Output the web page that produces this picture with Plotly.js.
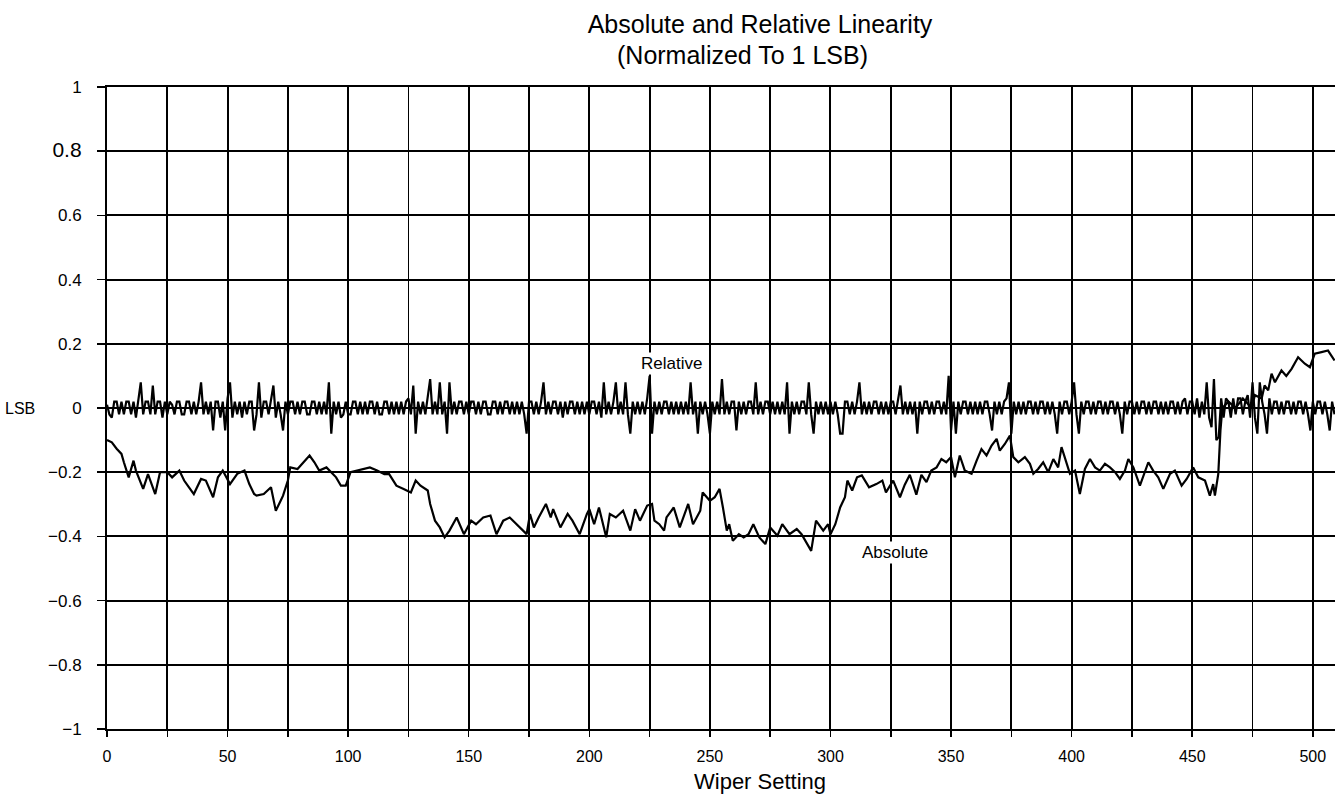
<!DOCTYPE html>
<html>
<head>
<meta charset="utf-8">
<script src="https://cdn.plot.ly/plotly-3.0.1.min.js"></script>
<style>html,body{margin:0;padding:0;background:#fff;}#chart{width:1335px;height:796px;}</style>
</head>
<body>
<div id="chart"></div>
<script>
// ---- Data ----
// Relative linearity, one value per wiper setting 0..509 (LSB)
const relY = [
 0.01,-0.02,-0.03,0.02,0.02,-0.02,0.02,-0.02,0.02,0.02,
 -0.02,0.02,-0.03,0.02,0.08,-0.02,0.02,0.02,-0.02,0.07,
 -0.02,0.02,0.02,-0.03,0.02,-0.02,0.02,0.01,-0.02,0.02,
 0.02,-0.02,-0.02,0.02,0.02,-0.02,0.02,-0.02,0.02,0.08,
 -0.02,0.02,-0.02,0.02,-0.07,0.02,0.02,-0.03,0.02,-0.07,
 0.03,0.08,-0.03,0.02,-0.02,0.02,-0.03,0.02,-0.02,0.02,
 0.02,-0.07,-0.02,0.08,-0.03,0.02,0.02,-0.02,0.02,0.07,
 -0.03,0.02,-0.02,-0.07,0.02,-0.02,0.02,0.02,-0.02,0.02,
 -0.02,0.02,0.02,-0.02,-0.02,0.02,0.02,-0.02,0.02,-0.02,
 0.02,-0.02,0.08,-0.08,0.02,-0.02,0.02,-0.03,-0.02,0.02,
 -0.02,-0.02,0.02,0.02,-0.02,0.02,-0.02,0.02,-0.02,0.02,
 0.02,-0.02,0.02,-0.02,-0.02,0.02,0.02,-0.02,0.02,-0.02,
 0.02,-0.02,0.02,-0.02,0.02,0.03,-0.02,0.07,-0.08,0.02,
 -0.02,0.02,-0.02,0.03,0.09,-0.02,0.02,-0.02,0.08,-0.02,
 0.02,-0.08,0.08,-0.02,0.02,-0.02,0.02,0.02,-0.02,0.02,
 -0.02,0.02,0.02,-0.02,0.02,-0.02,0.02,0.02,-0.02,-0.02,
 0.02,0.02,-0.02,0.02,-0.02,0.02,0.02,-0.02,0.02,-0.02,
 0.02,-0.02,0.02,-0.02,-0.08,0.02,0.02,-0.02,0.02,-0.02,
 0.02,0.08,-0.02,0.02,-0.02,0.02,0.02,-0.02,0.02,-0.03,
 0.02,-0.02,0.02,0.02,-0.02,0.02,-0.02,0.02,-0.02,0.02,
 -0.02,0.02,0.02,-0.02,0.02,-0.03,0.08,-0.02,0.02,-0.02,
 0.02,0.08,-0.02,0.02,-0.02,0.08,-0.02,-0.08,0.02,-0.02,
 0.02,-0.02,0.02,-0.02,0.03,0.1,-0.08,0.02,-0.02,0.02,
 -0.02,0.02,0.02,-0.02,0.02,-0.02,0.02,-0.02,0.02,-0.02,
 0.02,-0.02,0.08,-0.02,0.02,-0.08,0.02,-0.02,0.02,-0.02,
 -0.08,0.02,-0.02,0.02,-0.02,0.09,-0.02,0.02,-0.02,0.02,
 0.02,-0.07,0.02,-0.02,0.02,-0.02,0.02,0.02,-0.02,0.08,
 -0.02,0.02,-0.02,0.02,0.02,-0.02,0.02,-0.02,0.02,-0.02,
 0.02,-0.02,0.08,-0.08,0.02,-0.02,0.02,-0.02,0.02,0.02,
 -0.02,0.08,-0.02,-0.08,0.02,-0.02,0.02,-0.02,0.02,-0.02,
 0.02,-0.02,0.02,-0.02,-0.08,-0.08,0.02,0.02,-0.02,0.02,
 -0.02,0.02,0.08,-0.02,0.02,-0.02,0.02,-0.02,0.02,0.02,
 -0.02,0.02,-0.02,0.02,-0.02,0.02,0.02,-0.02,0.02,0.07,
 -0.02,0.02,-0.02,0.02,-0.02,0.02,-0.08,0.02,-0.02,0.02,
 0.02,-0.02,0.02,-0.02,0.02,0.02,-0.02,0.02,-0.02,0.1,
 -0.07,0.02,-0.08,0.02,-0.02,0.02,0.02,-0.02,0.02,-0.02,
 0.02,-0.02,0.02,-0.02,0.02,0.02,-0.02,-0.07,0.02,-0.02,
 0.02,-0.02,0.02,0.03,0.08,-0.08,0.02,-0.02,0.02,-0.02,
 0.02,-0.02,0.02,0.02,-0.02,0.02,-0.02,0.02,0.02,-0.02,
 0.02,-0.02,0.02,-0.02,-0.08,0.02,-0.02,0.02,0.02,-0.02,
 0.02,0.08,-0.02,-0.08,0.02,-0.02,0.02,0.02,-0.02,0.02,
 -0.02,0.02,0.02,-0.02,0.02,-0.02,0.02,0.02,-0.02,0.02,
 -0.02,-0.08,0.02,-0.02,0.02,0.02,-0.02,0.02,-0.02,0.02,
 0.02,-0.02,0.02,-0.02,0.02,0.02,-0.02,0.02,-0.02,0.02,
 -0.02,0.02,0.02,-0.02,0.02,-0.02,0.02,0.03,-0.02,0.02,
 0.02,-0.02,0.03,-0.03,0.02,-0.02,0.08,-0.03,-0.06,0.09,
 -0.1,-0.09,0.03,-0.03,0.03,0.02,-0.03,0.03,-0.02,0.03,
 0.03,-0.02,0.02,0.04,-0.03,0.08,-0.03,-0.08,0.08,0.02,
 -0.02,-0.08,0.03,-0.02,0.02,0.02,-0.02,0.02,-0.02,0.02,
 0.02,-0.02,0.02,-0.02,0.02,0.02,-0.02,0.02,-0.02,-0.07,
 0.02,-0.02,0.02,0.02,-0.02,0.02,-0.02,-0.07,0.02,-0.02
];
const relX = relY.map((_, i) => i);

// Absolute linearity, read at the visible turning points
const absX = [
 0,2,4,6,7,9,11,12,15,17,20,22,25,27,30,32,34,36,39,41,44,46,48,51,54,57,59,61,62,65,68,70,72,73,75,76,79,81,84,86,88,91,93,95,97,99,
 101,104,106,109,112,115,117,120,123,126,128,130,133,134,136,138,140,142,145,148,151,153,156,159,161.5,164.3,167,171.3,174,175.4,177,179,182,184,185,188,191,193,196,199,
 200,202,204,207,208.5,211,214,217,219,221,224,226,227,229,231,232,235,237.5,241,243,246,247,250,252,254,255.4,257,258,259.5,262,264,266,268,270.5,273,275,278,280,283,286,288,292,294,297,299,
 300,302,304,306,307,309,311,313,316,319,321.5,323,326,328.8,330.8,332.9,335.6,337.7,339.8,341.8,344,346,348,350,351.6,353.6,355.7,358.5,360.6,362.6,364.7,366.8,368.9,370.2,372.3,374.4,375.8,377.9,380.6,382.7,384.1,386.1,388.2,390.3,392.4,394.4,395.8,397.9,399.3,
 401.4,403.4,405.5,407.6,409.7,411.7,413.8,415.9,418,420,422.1,423.5,425.6,428.3,431.8,433.8,435.9,438,440.8,442.8,445.6,447.7,450.4,452.5,455.3,457.3,458.7,459.4,460.8,461.7,462.5,465,468,471,474.6,476,478.8,480,481.5,482.9,484.3,487,489,491.2,493.9,496.7,498.8,500.8,503.6,506.3,509
];
const absY = [
 -0.10,-0.107,-0.127,-0.143,-0.169,-0.216,-0.164,-0.195,-0.252,-0.206,-0.268,-0.2,-0.2,-0.216,-0.195,-0.226,-0.247,-0.268,-0.221,-0.226,-0.278,-0.216,-0.195,-0.237,-0.205,-0.195,-0.237,-0.268,-0.273,-0.268,-0.247,-0.32,-0.289,-0.273,-0.226,-0.185,-0.19,-0.174,-0.148,-0.169,-0.195,-0.185,-0.2,-0.216,-0.242,-0.242,
 -0.2,-0.195,-0.19,-0.185,-0.195,-0.206,-0.206,-0.242,-0.252,-0.263,-0.226,-0.242,-0.257,-0.299,-0.351,-0.372,-0.403,-0.382,-0.341,-0.393,-0.351,-0.362,-0.341,-0.335,-0.393,-0.351,-0.341,-0.372,-0.393,-0.33,-0.372,-0.341,-0.299,-0.341,-0.315,-0.372,-0.33,-0.351,-0.393,-0.33,
 -0.315,-0.362,-0.31,-0.403,-0.33,-0.341,-0.32,-0.382,-0.315,-0.351,-0.304,-0.299,-0.351,-0.362,-0.382,-0.341,-0.31,-0.372,-0.299,-0.362,-0.32,-0.263,-0.289,-0.278,-0.252,-0.31,-0.382,-0.362,-0.414,-0.393,-0.403,-0.393,-0.362,-0.403,-0.424,-0.372,-0.398,-0.362,-0.393,-0.377,-0.393,-0.445,-0.351,-0.382,-0.362,
 -0.393,-0.362,-0.31,-0.278,-0.226,-0.257,-0.216,-0.21,-0.247,-0.237,-0.226,-0.263,-0.226,-0.278,-0.239,-0.208,-0.27,-0.208,-0.231,-0.195,-0.185,-0.159,-0.169,-0.153,-0.216,-0.148,-0.195,-0.205,-0.164,-0.128,-0.148,-0.117,-0.096,-0.133,-0.112,-0.086,-0.153,-0.169,-0.153,-0.174,-0.205,-0.19,-0.169,-0.2,-0.159,-0.185,-0.122,-0.174,-0.205,
 -0.195,-0.268,-0.19,-0.159,-0.185,-0.195,-0.174,-0.185,-0.2,-0.221,-0.195,-0.159,-0.185,-0.242,-0.169,-0.195,-0.216,-0.252,-0.205,-0.195,-0.242,-0.221,-0.185,-0.216,-0.226,-0.273,-0.237,-0.273,-0.205,-0.07,0.0,0.02,0.0,0.03,0.0,0.04,0.03,0.07,0.055,0.107,0.08,0.117,0.1,0.122,0.158,0.138,0.127,0.169,0.174,0.179,0.148
];

const yTickVals = [-1,-0.8,-0.6,-0.4,-0.2,0,0.2,0.4,0.6,0.8,1];
const yTickText = ['\u22121','\u22120.8','\u22120.6','\u22120.4','\u22120.2','0','0.2','0.4','0.6','<span style="font-size:21px">0.8</span>','1'];
const titleLine1 = 'Absolute and Relative Linearity';
const titleLine2 = '(Normalized To 1 LSB)';
const xTitle = 'Wiper Setting';

const FONT = 'Liberation Sans, Arial, Helvetica, sans-serif';

const traces = [
  {x: relX, y: relY, type: 'scatter', mode: 'lines', name: 'Relative',
   line: {color: '#000', width: 2.2}, hoverinfo: 'skip'},
  {x: absX, y: absY, type: 'scatter', mode: 'lines', name: 'Absolute',
   line: {color: '#000', width: 2.2}, hoverinfo: 'skip'}
];

const layout = {
  width: 1335, height: 796,
  margin: {l: 107, r: 0, t: 87, b: 67},
  paper_bgcolor: '#fff', plot_bgcolor: '#fff',
  showlegend: false,
  font: {family: FONT, color: '#000', size: 15},
  title: {text: titleLine1, x: 760/1335, xanchor: 'center', xref: 'container',
          y: 1 - 24/796, yanchor: 'middle', yref: 'container',
          font: {family: FONT, size: 25, color: '#000'}},
  xaxis: {
    range: [0, 509.2], dtick: 50, tick0: 0,
    showgrid: true, gridcolor: '#000', gridwidth: 2,
    minor: {dtick: 25, showgrid: true, gridcolor: '#000', gridwidth: 1.8, ticks: 'outside', ticklen: 6, tickcolor: '#000'},
    ticks: 'outside', ticklen: 6, tickcolor: '#000', tickwidth: 1.5,
    ticklabelstandoff: 6,
    showline: true, linecolor: '#000', linewidth: 2, mirror: true,
    zeroline: false,
    tickfont: {family: FONT, size: 16, color: '#000'}
  },
  yaxis: {
    range: [-1, 1], tickvals: yTickVals, ticktext: yTickText,
    showgrid: true, gridcolor: '#000', gridwidth: 2,
    ticks: 'outside', ticklen: 8, tickcolor: '#000', tickwidth: 1.5,
    ticklabelstandoff: 12,
    showline: true, linecolor: '#000', linewidth: 2,
    zeroline: false,
    tickfont: {family: FONT, size: 17, color: '#000'}
  },
  annotations: [
    {text: titleLine2, xref: 'paper', yref: 'paper', x: (742-107)/1228, y: 1 + (87-55)/642,
     xanchor: 'center', yanchor: 'middle', showarrow: false, font: {family: FONT, size: 25, color: '#000'}},
    {text: xTitle, xref: 'paper', yref: 'paper', x: (760-107)/1228, y: -(781-729)/642,
     xanchor: 'center', yanchor: 'middle', showarrow: false, font: {family: FONT, size: 22, color: '#000'}},
    {text: 'LSB', xref: 'paper', yref: 'y', x: (3-107)/1228, y: 0,
     xanchor: 'left', yanchor: 'middle', showarrow: false, font: {family: FONT, size: 16, color: '#000'}},
    {text: 'Relative', xref: 'x', yref: 'y', x: 234.2, y: 0.139,
     xanchor: 'center', yanchor: 'middle', showarrow: false, bgcolor: '#fff', font: {family: FONT, size: 17, color: '#000'}},
    {text: 'Absolute', xref: 'x', yref: 'y', x: 326.7, y: -0.451,
     xanchor: 'center', yanchor: 'middle', showarrow: false, bgcolor: '#fff', font: {family: FONT, size: 17, color: '#000'}}
  ]
};

Plotly.newPlot('chart', traces, layout, {staticPlot: true, displayModeBar: false});
</script>
</body>
</html>
